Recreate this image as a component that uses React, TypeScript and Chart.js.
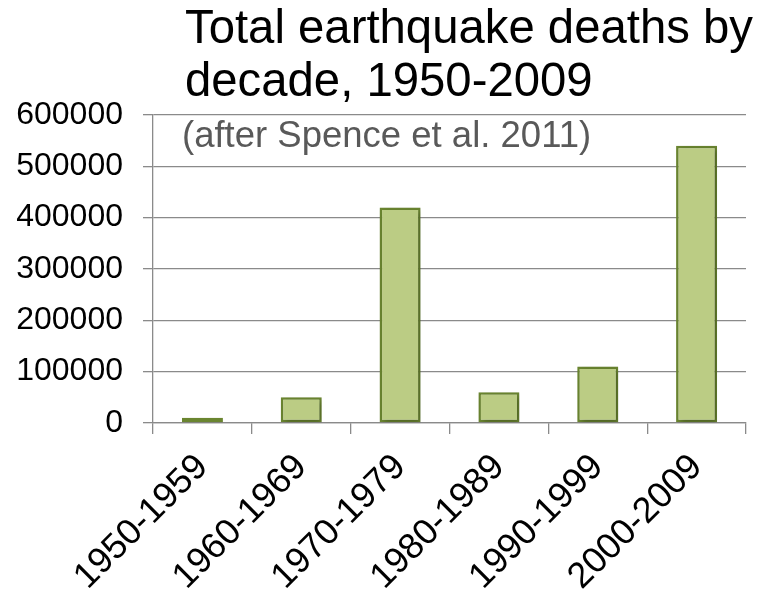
import React, { useEffect, useRef } from 'react';
import { Chart, registerables } from 'chart.js';

Chart.register(...registerables);

const categories = ['1950-1959', '1960-1969', '1970-1979', '1980-1989', '1990-1999', '2000-2009'];
const deaths = [10000, 50000, 420000, 60000, 110000, 540000];
const titleLines = ['Total earthquake deaths by', 'decade, 1950-2009'];
const subtitleText = '(after Spence et al. 2011)';
const yMin = 0;
const yMax = 600000;
const yStep = 100000;

const FONT = '"Liberation Sans", Arial, sans-serif';
const GRID = '#8a8a8a';

const textPlugin = {
  id: 'textPlugin',
  afterDraw(chart: any) {
    const ctx = chart.ctx;
    const area = chart.chartArea;
    ctx.save();
    ctx.textAlign = 'left';
    ctx.textBaseline = 'alphabetic';
    ctx.fillStyle = '#000000';
    ctx.font = `47.3px ${FONT}`;
    ctx.fillText(titleLines[0], 185, 43);
    ctx.fillText(titleLines[1], 185, 96);
    ctx.fillStyle = '#595959';
    ctx.font = `36.5px ${FONT}`;
    ctx.fillText(subtitleText, area.left + 29, area.top + 32);
    ctx.restore();
  },
};

const shadowPlugin = {
  id: 'shadowPlugin',
  beforeDatasetDraw(chart: any) {
    const ctx = chart.ctx;
    ctx.save();
    ctx.shadowColor = 'rgba(0,0,0,0.3)';
    ctx.shadowBlur = 5;
    ctx.shadowOffsetX = 2;
    ctx.shadowOffsetY = 2;
  },
  afterDatasetDraw(chart: any) {
    chart.ctx.restore();
  },
};

export default function App() {
  const ref = useRef<HTMLCanvasElement | null>(null);

  useEffect(() => {
    if (!ref.current) return;
    const chart = new Chart(ref.current, {
      type: 'bar',
      data: {
        labels: categories,
        datasets: [
          {
            data: deaths,
            backgroundColor: '#bbcc84',
            borderColor: '#6a8530',
            borderWidth: 2.5,
            borderSkipped: false,
            categoryPercentage: 1,
            barPercentage: 0.415,
          },
        ],
      },
      options: {
        animation: false,
        responsive: false,
        maintainAspectRatio: false,
        layout: { padding: { top: 115, right: 26, left: 0, bottom: 0 } },
        plugins: {
          legend: { display: false },
          title: { display: false },
          tooltip: { enabled: false },
        },
        scales: {
          x: {
            grid: {
              display: true,
              drawOnChartArea: false,
              drawTicks: true,
              tickLength: 11,
              color: GRID,
              lineWidth: 1.3,
              offset: true,
            },
            border: { display: true, color: GRID, width: 1.3 },
            ticks: {
              autoSkip: false,
              maxRotation: 45,
              minRotation: 45,
              color: '#000000',
              padding: 12,
              font: { family: FONT, size: 36 },
            },
            afterFit(scale: any) {
              scale.height = 171;
            },
          },
          y: {
            min: yMin,
            max: yMax,
            ticks: {
              stepSize: yStep,
              color: '#000000',
              padding: 20,
              font: { family: FONT, size: 32 },
              callback: (v: any) => String(v),
            },
            grid: {
              color: GRID,
              lineWidth: 1.3,
              tickLength: 10,
              drawTicks: true,
            },
            border: { display: true, color: GRID, width: 1.3 },
            afterFit(scale: any) {
              scale.width = 153;
            },
          },
        },
      },
      plugins: [shadowPlugin, textPlugin],
    });
    return () => chart.destroy();
  }, []);

  return (
    <div style={{ position: 'absolute', left: 0, top: 0, width: 772, height: 594, background: '#ffffff' }}>
      <canvas ref={ref} width={772} height={594} style={{ display: 'block' }} />
    </div>
  );
}
